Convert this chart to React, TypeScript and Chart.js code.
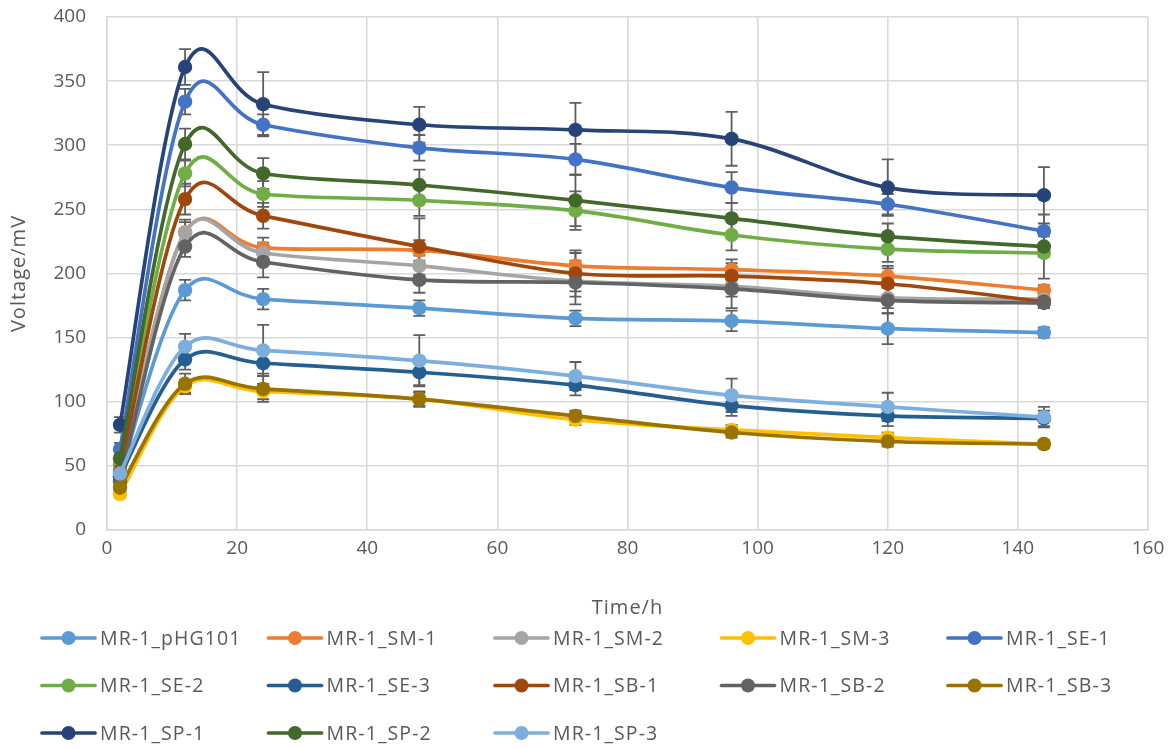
import React, { useEffect, useRef } from "react";
import { Chart, registerables } from "chart.js";

Chart.register(...registerables);

const times = [2, 12, 24, 48, 72, 96, 120, 144];

const seriesNames = [
  "MR-1_pHG101", "MR-1_SM-1", "MR-1_SM-2", "MR-1_SM-3", "MR-1_SE-1",
  "MR-1_SE-2", "MR-1_SE-3", "MR-1_SB-1", "MR-1_SB-2", "MR-1_SB-3",
  "MR-1_SP-1", "MR-1_SP-2", "MR-1_SP-3",
];

const pHG101 = [44, 187, 180, 173, 165, 163, 157, 154];
const SM1 = [42, 232, 220, 218, 206, 203, 198, 187];
const SM2 = [40, 232, 216, 206, 194, 190, 181, 180];
const SM3 = [28, 112, 108, 102, 86, 78, 72, 67];
const SE1 = [63, 334, 316, 298, 289, 267, 254, 233];
const SE2 = [51, 278, 262, 257, 249, 230, 219, 216];
const SE3 = [42, 133, 130, 123, 113, 97, 89, 87];
const SB1 = [46, 258, 245, 221, 200, 198, 192, 178];
const SB2 = [38, 221, 209, 195, 193, 188, 179, 177];
const SB3 = [33, 114, 110, 102, 89, 76, 69, 67];
const SP1 = [82, 361, 332, 316, 312, 305, 267, 261];
const SP2 = [56, 301, 278, 269, 257, 243, 229, 221];
const SP3 = [44, 143, 140, 132, 120, 105, 96, 88];

const errPHG101 = [4, 8, 8, 6, 6, 8, 12, 4];
const errSM1 = [4, 10, 8, 8, 10, 8, 8, 4];
const errSM2 = [4, 8, 8, 8, 8, 8, 8, 4];
const errSM3 = [3, 5, 6, 5, 4, 4, 4, 3];
const errSE1 = [5, 10, 8, 10, 12, 12, 8, 13];
const errSE2 = [4, 10, 10, 12, 15, 12, 10, 20];
const errSE3 = [4, 8, 8, 10, 8, 8, 8, 6];
const errSB1 = [4, 12, 10, 22, 18, 10, 12, 5];
const errSB2 = [4, 8, 12, 10, 17, 15, 10, 4];
const errSB3 = [3, 8, 10, 6, 4, 4, 4, 3];
const errSP1 = [6, 14, 25, 14, 21, 21, 22, 22];
const errSP2 = [5, 12, 12, 12, 20, 12, 10, 8];
const errSP3 = [4, 10, 20, 20, 11, 13, 11, 8];

const values = [pHG101, SM1, SM2, SM3, SE1, SE2, SE3, SB1, SB2, SB3, SP1, SP2, SP3];
const errors = [errPHG101, errSM1, errSM2, errSM3, errSE1, errSE2, errSE3, errSB1, errSB2, errSB3, errSP1, errSP2, errSP3];

const colors = [
  "#5B9BD5", "#ED7D31", "#A5A5A5", "#FFC000", "#4472C4",
  "#70AD47", "#255E91", "#9E480E", "#636363", "#997300",
  "#264478", "#43682B", "#7CAFDD",
];

const xTitle = "Time/h";
const yTitle = "Voltage/mV";

const FONT = "'Open Sans', sans-serif";
const TEXT = "#595959";
const GRID = "#D9D9D9";
const LINE_W = 3.7;

// Excel-like smoothing: uniform Catmull-Rom control points (1/6 of neighbour span)
const excelSmoothPlugin = {
  id: "excelSmooth",
  beforeDatasetsDraw(chart: any) {
    chart.data.datasets.forEach((_ds: any, i: number) => {
      const meta = chart.getDatasetMeta(i);
      const pts = meta.data;
      const n = pts.length;
      for (let j = 0; j < n; j++) {
        const p = pts[j];
        const prev = pts[Math.max(j - 1, 0)];
        const next = pts[Math.min(j + 1, n - 1)];
        const dx = (next.x - prev.x) / 6;
        const dy = (next.y - prev.y) / 6;
        p.cp1x = p.x - dx;
        p.cp1y = p.y - dy;
        p.cp2x = p.x + dx;
        p.cp2y = p.y + dy;
      }
      if (meta.dataset) meta.dataset._pointsUpdated = true;
    });
  },
};

const errorBarsPlugin = {
  id: "errorBars",
  beforeDatasetsDraw(chart: any) {
    const { ctx, scales } = chart;
    const xs = scales.x;
    const ys = scales.y;
    ctx.save();
    ctx.strokeStyle = "#5f5f5f";
    ctx.lineWidth = 1.8;
    chart.data.datasets.forEach((ds: any) => {
      const errs: number[] = ds.errors || [];
      ds.data.forEach((pt: any, j: number) => {
        const e = errs[j];
        if (!e) return;
        const x = xs.getPixelForValue(pt.x);
        const yt = ys.getPixelForValue(pt.y + e);
        const yb = ys.getPixelForValue(pt.y - e);
        ctx.beginPath();
        ctx.moveTo(x, yt);
        ctx.lineTo(x, yb);
        ctx.moveTo(x - 6, yt);
        ctx.lineTo(x + 6, yt);
        ctx.moveTo(x - 6, yb);
        ctx.lineTo(x + 6, yb);
        ctx.stroke();
      });
    });
    ctx.restore();
  },
};

const titlesAndLegendPlugin = {
  id: "titlesAndLegend",
  afterDraw(chart: any) {
    const { ctx, chartArea } = chart;
    ctx.save();
    ctx.fillStyle = TEXT;
    ctx.textAlign = "center";
    ctx.textBaseline = "middle";
    try { (ctx as any).letterSpacing = "1px"; } catch (e) {}
    ctx.font = `20px ${FONT}`;
    ctx.fillText(xTitle, (chartArea.left + chartArea.right) / 2, 608);
    ctx.save();
    ctx.translate(19, (chartArea.top + chartArea.bottom) / 2);
    ctx.rotate(-Math.PI / 2);
    ctx.fillText(yTitle, 0, 0);
    ctx.restore();

    const colStart = 42;
    const colStep = 226.5;
    const rowStart = 638;
    const rowStep = 47.5;
    const lineLen = 53;
    ctx.font = `19.5px ${FONT}`;
    ctx.textAlign = "left";
    try { (ctx as any).letterSpacing = "1.1px"; } catch (e) {}
    chart.data.datasets.forEach((ds: any, i: number) => {
      const c = i % 5;
      const r = Math.floor(i / 5);
      const x0 = colStart + c * colStep;
      const y = rowStart + r * rowStep;
      ctx.strokeStyle = ds.borderColor;
      ctx.lineWidth = LINE_W;
      ctx.lineCap = "round";
      ctx.beginPath();
      ctx.moveTo(x0, y);
      ctx.lineTo(x0 + lineLen, y);
      ctx.stroke();
      ctx.fillStyle = ds.backgroundColor;
      ctx.beginPath();
      ctx.arc(x0 + lineLen / 2, y, 7, 0, Math.PI * 2);
      ctx.fill();
      ctx.fillStyle = TEXT;
      ctx.fillText(ds.label, x0 + lineLen + 5, y + 1);
    });
    ctx.restore();
  },
};

export default function App() {
  const ref = useRef<HTMLCanvasElement | null>(null);
  useEffect(() => {
    if (!ref.current) return;
    const datasets = seriesNames.map((name, i) => ({
      label: name,
      data: times.map((t, j) => ({ x: t, y: values[i][j] })),
      errors: errors[i],
      borderColor: colors[i],
      backgroundColor: colors[i],
      pointBackgroundColor: colors[i],
      pointBorderColor: colors[i],
      pointRadius: 7.2,
      pointBorderWidth: 0,
      borderWidth: LINE_W,
      tension: 0.4,
      fill: false,
      order: seriesNames.length - i,
    }));
    const chart = new Chart(ref.current, {
      type: "line",
      data: { datasets } as any,
      plugins: [excelSmoothPlugin, errorBarsPlugin, titlesAndLegendPlugin],
      options: {
        animation: false,
        responsive: false,
        maintainAspectRatio: false,
        layout: { padding: { left: 0, right: 27, top: 17, bottom: 124 } },
        plugins: { legend: { display: false }, tooltip: { enabled: false } },
        scales: {
          x: {
            type: "linear",
            min: 0,
            max: 160,
            ticks: { stepSize: 20, color: TEXT, font: { family: FONT, size: 19 }, padding: 7 },
            grid: { color: GRID, lineWidth: 1.6, drawTicks: false },
            border: { color: GRID, width: 1.6 },
            afterFit(scale: any) {
              scale.height = 95;
              scale.paddingLeft = 0;
              scale.paddingRight = 0;
            },
          },
          y: {
            min: 0,
            max: 400,
            ticks: { stepSize: 50, color: TEXT, font: { family: FONT, size: 19 }, padding: 21 },
            grid: { color: GRID, lineWidth: 1.6, drawTicks: false },
            border: { color: GRID, width: 1.6 },
            afterFit(scale: any) {
              scale.width = 107;
              scale.paddingTop = 0;
              scale.paddingBottom = 0;
            },
          },
        },
      } as any,
    });
    return () => chart.destroy();
  }, []);
  return (
    <div style={{ position: "absolute", left: 0, top: 0, width: 1175, height: 749, background: "#fff" }}>
      <canvas ref={ref} width={1175} height={749} />
    </div>
  );
}
